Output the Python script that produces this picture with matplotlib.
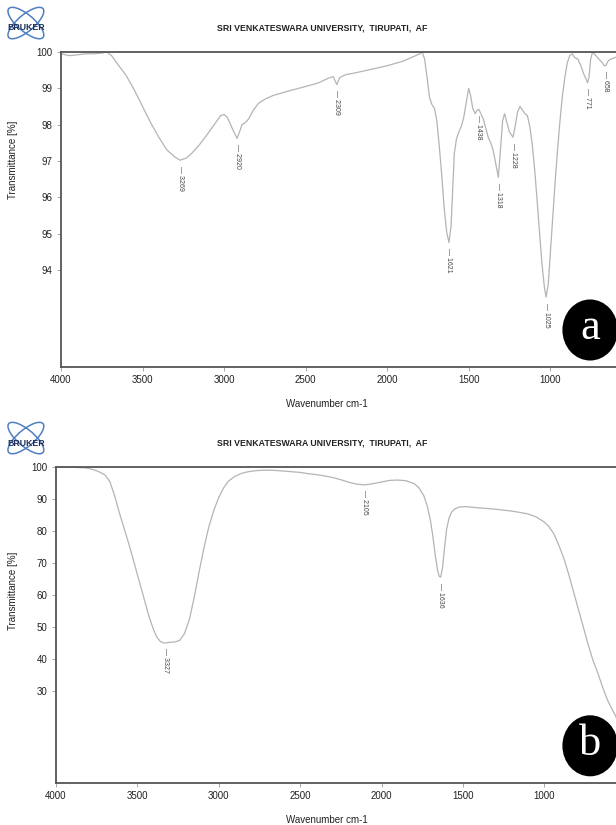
import matplotlib.pyplot as plt
from matplotlib.patches import Ellipse

# spectrum (a)
wn_a = [4000, 3950, 3900, 3850, 3800, 3750, 3720, 3690, 3650, 3600, 3550, 3500, 3450, 3400,
        3350, 3300, 3269, 3230, 3200, 3150, 3100, 3060, 3020, 3000, 2980, 2960, 2940, 2920,
        2905, 2890, 2871, 2850, 2820, 2790, 2750, 2700, 2600, 2500, 2420, 2360, 2330, 2309,
        2290, 2250, 2200, 2100, 2000, 1900, 1850, 1800, 1785, 1770, 1755, 1740, 1725, 1710,
        1695, 1680, 1665, 1650, 1635, 1621, 1608, 1598, 1588, 1575, 1560, 1545, 1530, 1515,
        1500, 1488, 1475, 1460, 1448, 1438, 1425, 1410, 1395, 1380, 1365, 1350, 1335, 1318,
        1305, 1292, 1280, 1265, 1250, 1228, 1215, 1200, 1185, 1170, 1155, 1140, 1125, 1110,
        1095, 1080, 1065, 1050, 1035, 1025, 1012, 1000, 985, 970, 955, 940, 925, 910, 895,
        880, 865, 850, 830, 810, 795, 780, 771, 762, 752, 740, 720, 700, 680, 668, 658, 645,
        630, 600, 550, 500, 450, 400]
tr_a = [99.95, 99.9, 99.92, 99.95, 99.95, 99.97, 100.0, 99.9, 99.65, 99.35, 98.95, 98.5, 98.05, 97.65,
        97.3, 97.1, 97.02, 97.08, 97.2, 97.45, 97.75, 98.0, 98.25, 98.28, 98.2, 98.0, 97.8, 97.62,
        97.8, 98.0, 98.05, 98.15, 98.4, 98.58, 98.7, 98.8, 98.93, 99.05, 99.15, 99.28, 99.32, 99.1,
        99.3, 99.38, 99.42, 99.52, 99.62, 99.75, 99.85, 99.95, 100.0, 99.8, 99.3, 98.75, 98.55, 98.45,
        98.1, 97.4, 96.6, 95.7, 95.05, 94.75, 95.2, 96.2, 97.2, 97.6, 97.8, 97.95, 98.2, 98.6,
        99.0, 98.8, 98.45, 98.3, 98.4, 98.42, 98.3, 98.15, 97.9, 97.65, 97.5, 97.3, 96.95, 96.55,
        97.3, 98.1, 98.3, 98.05, 97.8, 97.65, 97.95, 98.35, 98.5, 98.4, 98.3, 98.25, 97.95, 97.45,
        96.75, 95.9, 95.0, 94.15, 93.5, 93.25, 93.6, 94.4, 95.4, 96.4, 97.3, 98.1, 98.8, 99.3, 99.7,
        99.9, 99.95, 99.85, 99.8, 99.6, 99.4, 99.25, 99.15, 99.3, 99.8, 100.0, 99.9, 99.8, 99.7, 99.62,
        99.63, 99.75, 99.8, 99.85, 99.9, 99.9, 99.9, 99.9]
peaks_a = [3269, 2920, 2309, 1621, 1438, 1318, 1228, 1025, 771, 658]

# spectrum (b)
wn_b = [4000, 3900, 3820, 3780, 3740, 3700, 3670, 3640, 3610, 3580, 3550, 3520, 3490, 3460,
        3430, 3400, 3380, 3360, 3340, 3327, 3300, 3270, 3240, 3210, 3180, 3150, 3120, 3090,
        3060, 3030, 3000, 2970, 2940, 2900, 2860, 2820, 2780, 2740, 2700, 2650, 2600, 2550,
        2500, 2450, 2400, 2350, 2300, 2250, 2200, 2150, 2105, 2060, 2000, 1950, 1900, 1850,
        1800, 1770, 1740, 1720, 1700, 1685, 1670, 1655, 1645, 1636, 1625, 1612, 1600, 1585,
        1570, 1550, 1520, 1480, 1440, 1400, 1350, 1300, 1250, 1200, 1150, 1100, 1050, 1000,
        970, 940, 910, 880, 850, 820, 790, 760, 730, 700, 670, 640, 610, 580, 550, 500, 450, 400]
tr_b = [100.0, 99.9, 99.7, 99.3, 98.6, 97.5, 95.5, 91.0, 85.5, 80.5, 75.5, 70.0, 64.5, 59.0,
        53.5, 49.0, 46.8, 45.5, 45.0, 45.0, 45.2, 45.3, 45.8, 48.0, 52.5, 59.5, 67.5, 75.0,
        81.5, 86.5, 90.5, 93.5, 95.6, 97.1, 98.0, 98.5, 98.8, 98.95, 99.0, 98.9, 98.7, 98.5,
        98.3, 97.9, 97.6, 97.2, 96.7, 96.0, 95.2, 94.6, 94.4, 94.7, 95.3, 95.8, 95.9, 95.7,
        94.8, 93.5, 91.0, 88.0, 83.5, 78.5, 72.5, 67.5, 65.8, 65.6, 68.5, 75.0, 80.5, 84.0,
        85.8, 86.9, 87.5, 87.6, 87.4, 87.2, 87.0, 86.8, 86.5, 86.2, 85.8, 85.3, 84.4, 82.8,
        81.3, 79.0, 75.5, 71.5, 66.5, 61.0, 55.5, 50.0, 44.5, 39.5, 35.5, 31.0, 27.0, 24.0,
        21.0, 17.0, 13.5, 10.5]
peaks_b = [3327, 2105, 1636]

xticks = [4000, 3500, 3000, 2500, 2000, 1500, 1000]
title = "SRI VENKATESWARA UNIVERSITY,  TIRUPATI,  AF"
line_col = "#b4b4b4"
frame_col = "#555555"

plt.rcParams['font.family'] = ['Liberation Sans', 'DejaVu Sans']

fig = plt.figure(figsize=(6.16, 8.25), dpi=100)


def panel(rect, wn, tr, peaks, ylim, yticks, letter, top_px, ylab_y):
    ax = fig.add_axes(rect)
    ax.plot(wn, tr, color=line_col, lw=0.9)
    ax.set_xlim(4000, 400)
    ax.set_ylim(*ylim)
    ax.set_xticks(xticks)
    ax.set_yticks(yticks)
    ax.tick_params(direction='out', length=3, width=0.6, color='#999999',
                   labelsize=7, labelcolor='#222222', pad=3)
    for s in ax.spines.values():
        s.set_color(frame_col)
        s.set_linewidth(1.3)
    for p in peaks:
        # take the curve value at the labelled wavenumber
        i = min(range(len(wn)), key=lambda k: abs(wn[k] - p))
        ax.annotate("\u2014 " + str(p), xy=(p, tr[i]), xytext=(0, -4),
                    textcoords='offset points', rotation=270, ha='center', va='top',
                    fontsize=5, color='#444444')
    # header
    fy = 1 - (top_px - 24) / 825
    fig.text(0.523, fy, title, ha='center', va='center', fontsize=6.3,
             fontweight='bold', color='#222222')
    for ang in (30, -30):
        fig.add_artist(Ellipse((0.042, fy + 0.006), 0.066, 0.022, angle=ang,
                               transform=fig.transFigure, fill=False,
                               ec='#4f7fc0', lw=1.1))
    fig.text(0.042, fy, "BRUKER", ha='center', va='center', fontsize=6.3,
             fontweight='heavy', color='#1f2f5a')
    fig.text(0.021, 1 - ylab_y / 825, "Transmittance [%]", rotation=90,
             ha='center', va='center', fontsize=7, color='#222222')
    fig.text(0.53, rect[1] - 0.045, "Wavenumber cm-1", ha='center', va='center',
             fontsize=7, color='#222222')
    # panel letter badge
    cy = rect[1] + 0.045
    fig.add_artist(Ellipse((0.958, cy), 0.09, 0.074, transform=fig.transFigure,
                           fc='black', ec='none', zorder=5))
    fig.text(0.958, cy + 0.002, letter, ha='center', va='center', fontsize=32,
             family='Liberation Serif', color='white', zorder=6)
    return ax


panel([0.099, 0.555, 0.953, 0.382], wn_a, tr_a, peaks_a, (91.32, 100.0),
      [94, 95, 96, 97, 98, 99, 100], 'a', 52, 160)
panel([0.091, 0.051, 0.951, 0.383], wn_b, tr_b, peaks_b, (1.25, 100.0),
      [30, 40, 50, 60, 70, 80, 90, 100], 'b', 467, 591)

fig.savefig("out.png", dpi=100)
